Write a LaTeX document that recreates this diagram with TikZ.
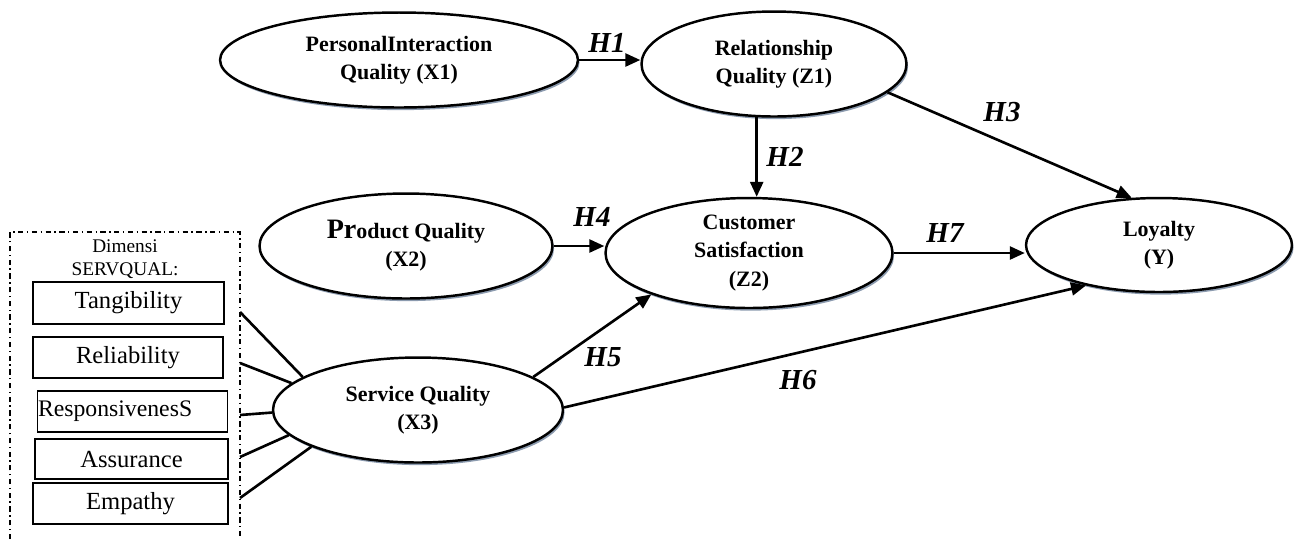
\documentclass[tikz,border=0pt]{standalone}
\usepackage{fontspec}
\setmainfont{Liberation Serif}
\usetikzlibrary{arrows.meta,positioning,shapes.geometric,shadows}
\definecolor{bayang}{RGB}{140,155,175}
\tikzset{
  lat/.style={ellipse,draw,line width=1.4pt,fill=white,inner sep=0pt,align=center,
    font=\fontsize{12.5}{16}\selectfont\bfseries,
    drop shadow={shadow xshift=0.9pt,shadow yshift=-1.5pt,fill=bayang,opacity=1}},
  dim/.style={draw,line width=0.9pt,inner sep=0pt,font=\fontsize{14}{16}\selectfont},
  nyil/.style={-{Triangle[length=3mm,width=2.6mm]},line width=1.5pt},
  garis/.style={line width=1.5pt},
  hip/.style={font=\fontsize{16.5}{18}\selectfont\bfseries\itshape},
}

\begin{document}
\begin{tikzpicture}[x=0.02cm,y=-0.02cm]
  \useasboundingbox (0,0) rectangle (1294,539);
  % konstruk
  \node[lat,minimum width=7.16cm,minimum height=1.9cm] (x1) at (399,60)
    {PersonalInteraction\\Quality (X1)};
  \node[lat,minimum width=5.3cm,minimum height=2.1cm] (z1) at (774,64)
    {Relationship\\Quality (Z1)};
  \node[lat,minimum width=5.86cm,minimum height=2.1cm] (x2) at (406,246)
    {{\fontsize{16}{16}\selectfont Pr}oduct Quality\\(X2)};
  \node[lat,minimum width=5.74cm,minimum height=2.2cm] (z2) at (749,253)
    {Customer\\Satisfaction\\(Z2)};
  \node[lat,minimum width=5.32cm,minimum height=1.88cm] (y) at (1159,245)
    {Loyalty\\(Y)};
  \node[lat,minimum width=5.8cm,minimum height=2.1cm] (x3) at (418,410)
    {Service Quality\\(X3)};

  % dimensi servqual
  \draw[line width=0.8pt,dash pattern=on 3pt off 2pt on 0.8pt off 2pt]
    (10,539) -- (10,232) -- (240,232) -- (240,539);
  \node[align=center,font=\fontsize{11}{13}\selectfont] (dms) at (125,259) {Dimensi\\SERVQUAL:};
  \node[dim,minimum width=3.82cm,minimum height=0.84cm] (tan) at (128.5,303) {Tangibility};
  \node[dim,minimum width=3.8cm,minimum height=0.82cm] (rel) at (128,357.5) {Reliability};
  \node[dim,text width=3.78cm,minimum height=0.82cm,align=left,inner xsep=0.01cm,
    font=\fontsize{13.5}{16}\selectfont] (res) at (132.5,411.5) {ResponsivenesS};
  \node[dim,minimum width=3.86cm,minimum height=0.8cm] (asu) at (131.5,459) {Assurance};
  \node[dim,minimum width=3.9cm,minimum height=0.82cm] (emp) at (130.5,503.5) {Empathy};

  \coordinate (c1) at (240,312);
  \coordinate (c2) at (240,363);
  \coordinate (c3) at (240,415);
  \coordinate (c4) at (240,457);
  \coordinate (c5) at (240,498);
  \draw[garis] (c1) -- (x3.164);
  \draw[garis] (c2) -- (x3.168);
  \draw[garis] (c3) -- (x3.181);
  \draw[garis] (c4) -- (x3.191);
  \draw[garis] (c5) -- (x3.199);

  % hipotesis
  \draw[nyil] (x1.east) -- (x1.east -| z1.west);
  \draw[nyil] (z1.-108) -- (z1.-108 |- z2.north);
  \draw[nyil] (z1.-14) -- (y.120);
  \draw[nyil] (x2.east) -- (x2.east -| z2.west);
  \draw[nyil] (x3.16) -- (z2.-157);
  \draw[nyil] (x3.1) -- (y.-151);
  \draw[nyil] (z2.east) -- (z2.east -| y.west);

  \node[hip] (h1) at (607,43) {H1};
  \node[hip] (h2) at (785,157) {H2};
  \node[hip] (h3) at (1002,112) {H3};
  \node[hip] (h4) at (592,217) {H4};
  \node[hip] (h5) at (603,357) {H5};
  \node[hip] (h6) at (798,380) {H6};
  \node[hip] (h7) at (945,233) {H7};
\end{tikzpicture}
\end{document}
